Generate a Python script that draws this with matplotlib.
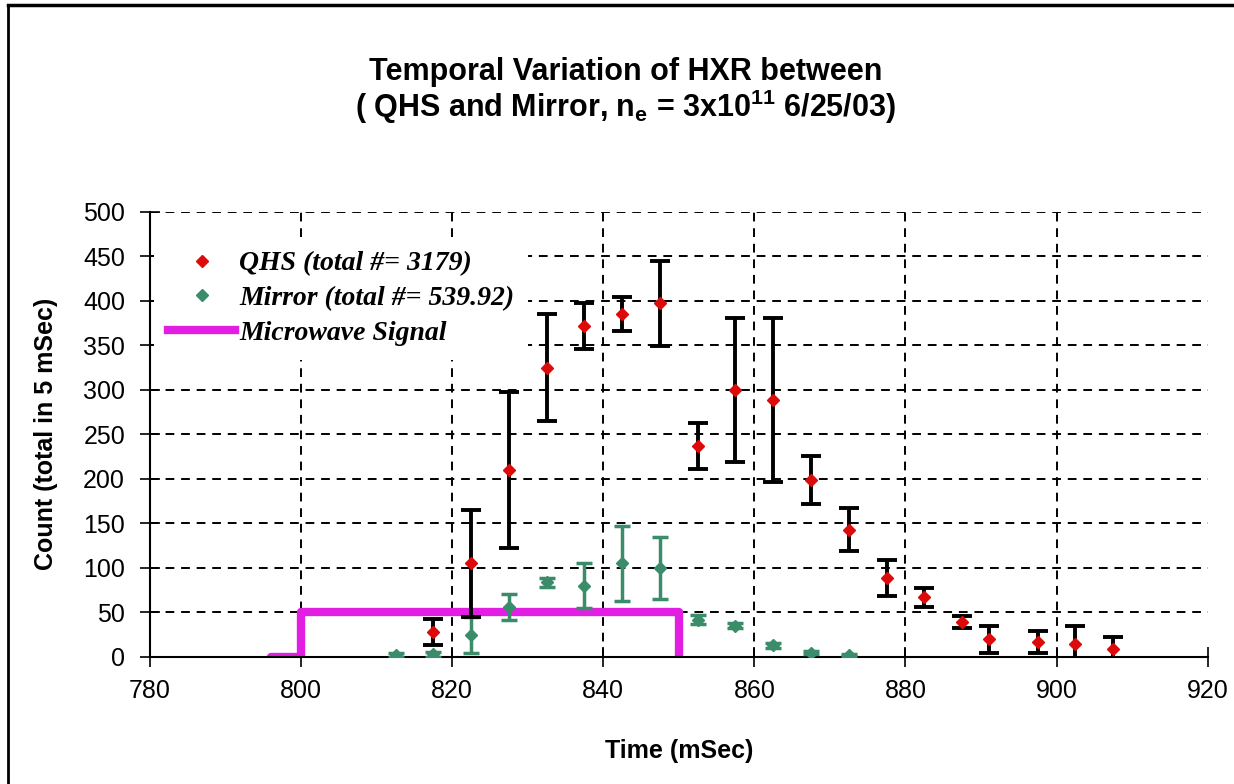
import matplotlib
matplotlib.use('Agg')
from matplotlib import pyplot as plt
from matplotlib.lines import Line2D

# QHS counts (red)
qhs_t = [817.5, 822.5, 827.5, 832.5, 837.5, 842.5, 847.5, 852.5, 857.5, 862.5,
         867.5, 872.5, 877.5, 882.5, 887.5, 891, 897.5, 902.5, 907.5]
qhs_n = [28, 105, 210, 325, 372, 385, 397, 237, 300, 289,
         199, 143, 89, 67, 39, 20, 17, 15, 9]
qhs_err = [15, 60, 88, 60, 26, 19, 48, 26, 81, 92,
           27, 24, 20, 11, 7, 15, 12, 20, 13]

# Mirror counts (green)
mir_t = [812.5, 817.5, 822.5, 827.5, 832.5, 837.5, 842.5, 847.5, 852.5, 857.5,
         862.5, 867.5, 872.5]
mir_n = [2, 3, 25, 56, 84, 80, 105, 100, 42, 35, 13, 5, 2]
mir_err = [2, 3, 20, 15, 5, 25, 42, 35, 5, 3, 3, 2, 1]

# microwave signal (step)
mw_t = [796, 800, 800, 850, 850]
mw_v = [0, 0, 50, 50, 0]

x_ticks = [780, 800, 820, 840, 860, 880, 900, 920]
y_ticks = [0, 50, 100, 150, 200, 250, 300, 350, 400, 450, 500]

red = '#dd0a0a'
green = '#3a8c6a'
magenta = '#e31ee3'

fig = plt.figure(figsize=(12.34, 7.84), dpi=100)
ax = fig.add_axes([0.1216, 0.162, 0.857, 0.568])

ax.plot(mw_t, mw_v, color=magenta, lw=6, solid_joinstyle='round',
        solid_capstyle='round', zorder=2)
ax.errorbar(mir_t, mir_n, yerr=mir_err, fmt='D', color=green, ms=6.5,
            ecolor=green, elinewidth=2.5, capsize=6, capthick=2.5, zorder=3)
ax.errorbar(qhs_t, qhs_n, yerr=qhs_err, fmt='none', ecolor='black',
            elinewidth=2.8, capsize=7, capthick=2.8, zorder=4)
ax.plot(qhs_t, qhs_n, 'D', color=red, ms=6.5, zorder=5)

ax.set_xlim(780, 920)
ax.set_ylim(0, 500)
ax.set_xticks(x_ticks)
ax.set_yticks(y_ticks)
ax.tick_params(direction='inout', length=14, width=1.2, labelsize=18)
ax.tick_params(axis='x', pad=9)
ax.tick_params(axis='y', pad=11)
for lab in ax.get_xticklabels() + ax.get_yticklabels():
    lab.set_family('Liberation Sans')
for s in ['top', 'right']:
    ax.spines[s].set_visible(False)
for s in ['left', 'bottom']:
    ax.spines[s].set_linewidth(1.5)

for x in x_ticks[1:-1]:
    ax.axvline(x, color='black', lw=1.4, ls=(0, (4.5, 3.5)), zorder=1)
for y in y_ticks[1:]:
    ax.axhline(y, color='black', lw=1.4, ls=(0, (4.5, 3.5)), zorder=1)

handles = [
    Line2D([], [], marker='D', ls='none', color=red, ms=6.5),
    Line2D([], [], marker='D', ls='none', color=green, ms=6.5),
    Line2D([], [], color=magenta, lw=6),
]
labels = ['QHS (total #= 3179)', 'Mirror (total #= 539.92)', 'Microwave Signal']
leg = ax.legend(handles, labels, loc='upper left', bbox_to_anchor=(0.004, 0.943),
                frameon=True, facecolor='white', edgecolor='none', framealpha=1,
                fancybox=False, borderpad=0.5,
                handlelength=2.4, handletextpad=0.15, labelspacing=0.33,
                borderaxespad=0.0,
                prop={'family': 'Liberation Serif', 'weight': 'bold',
                      'style': 'italic', 'size': 20})
leg.set_zorder(2.2)

ax.set_xlabel('Time (mSec)', fontsize=18, fontweight='bold',
              family='Liberation Sans', labelpad=26)
ax.set_ylabel('Count (total in 5 mSec)', fontsize=18, fontweight='bold',
              family='Liberation Sans', labelpad=18)

fig.text(0.507, 0.908, 'Temporal Variation of HXR between', ha='center',
         va='center', fontsize=22, fontweight='bold', family='Liberation Sans')
fig.text(0.507, 0.864, r'( QHS and Mirror, n$_\mathregular{e}$ = 3x10$^\mathregular{11}$ 6/25/03)',
         ha='center', va='center', fontsize=22, fontweight='bold',
         family='Liberation Sans')

# partial outer frame
fig.add_artist(Line2D([0.0065, 0.0065], [0.0, 0.993], color='black', lw=2,
                      transform=fig.transFigure))
fig.add_artist(Line2D([0.0065, 1.0], [0.993, 0.993], color='black', lw=2.5,
                      transform=fig.transFigure))

fig.savefig('out.png', dpi=100)
